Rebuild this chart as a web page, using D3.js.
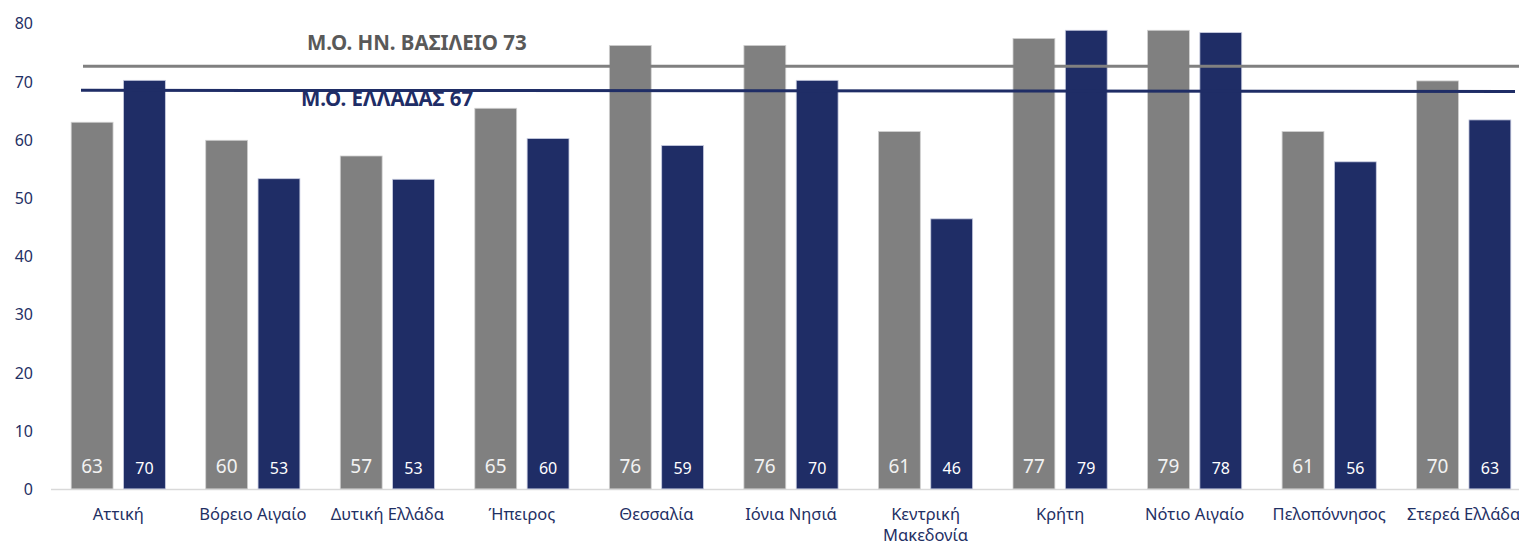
<!DOCTYPE html>
<html><head><meta charset="utf-8">
<script src="https://cdn.jsdelivr.net/npm/d3@7"></script>
<style>
html,body{margin:0;padding:0;background:#fff;overflow:hidden}
svg{display:block}
text{font-family:"Noto Sans","Open Sans",sans-serif}
</style></head>
<body>
<svg id="chart" width="1519" height="545"></svg>
<script>
const categories = ["Αττική","Βόρειο Αιγαίο","Δυτική Ελλάδα","Ήπειρος","Θεσσαλία","Ιόνια Νησιά","Κεντρική Μακεδονία","Κρήτη","Νότιο Αιγαίο","Πελοπόννησος","Στερεά Ελλάδα"];
const ukValues = [63.0, 59.9, 57.2, 65.4, 76.2, 76.2, 61.4, 77.4, 78.8, 61.4, 70.1];
const grValues = [70.2, 53.3, 53.2, 60.2, 59.0, 70.2, 46.4, 78.8, 78.4, 56.2, 63.4];
const ukLabels = ["63","60","57","65","76","76","61","77","79","61","70"];
const grLabels = ["70","53","53","60","59","70","46","79","78","56","63"];
const ukAvg = 72.6, grAvg = 68.5;
const ukAvgText = "Μ.Ο. ΗΝ. ΒΑΣΙΛΕΙΟ 73";
const grAvgText = "Μ.Ο. ΕΛΛΑΔΑΣ 67";
const yTicks = [0,10,20,30,40,50,60,70,80];

const GRAY = "#808080", NAVY = "#1F2D66", TEXT = "#1F3064";
const svg = d3.select("#chart");
const x0 = 51, x1 = 1531, yBottom = 488.9, yTop = 23.3;
const x = d3.scaleBand().domain(categories).range([x0, x1]).paddingInner(0.30).paddingOuter(0.15);
const sub = d3.scaleBand().domain(["uk","gr"]).range([0, x.bandwidth()]).paddingInner(0.2);
const y = d3.scaleLinear().domain([0,80]).range([yBottom, yTop]);

// y axis labels
const yAxis = d3.axisLeft(y).tickValues(yTicks).tickSize(0).tickPadding(0);
const gy = svg.append("g").attr("transform","translate(33,0)").call(yAxis);
gy.select(".domain").remove();
gy.selectAll("text").attr("fill",TEXT).style("font-size","16px").attr("dy","0.35em");

// baseline
svg.append("line").attr("x1",x0).attr("x2",1519).attr("y1",y(0)+0.5).attr("y2",y(0)+0.5)
  .attr("stroke","#d9d9d9").attr("stroke-width",1.5);

const rows = categories.map((c,i)=>({c, uk:ukValues[i], gr:grValues[i], ukL:ukLabels[i], grL:grLabels[i]}));
const g = svg.append("g");
const grp = g.selectAll("g.cat").data(rows).join("g").attr("transform",d=>`translate(${x(d.c)},0)`);
grp.append("rect").attr("x",sub("uk")).attr("width",sub.bandwidth()).attr("y",d=>y(d.uk)).attr("height",d=>y(0)-y(d.uk))
  .attr("fill",GRAY).attr("stroke","#d0d0d0").attr("stroke-width",0.8);
grp.append("rect").attr("x",sub("gr")).attr("width",sub.bandwidth()).attr("y",d=>y(d.gr)).attr("height",d=>y(0)-y(d.gr))
  .attr("fill",NAVY).attr("stroke","#c8cce0").attr("stroke-width",0.8);
grp.append("text").attr("x",sub("uk")+sub.bandwidth()/2).attr("y",472.5).attr("text-anchor","middle")
  .attr("fill","#f2f2f2").style("font-size","19px").text(d=>d.ukL);
grp.append("text").attr("x",sub("gr")+sub.bandwidth()/2).attr("y",473.5).attr("text-anchor","middle")
  .attr("fill","#ffffff").style("font-size","16px").text(d=>d.grL);

// category labels
const xAxis = d3.axisBottom(x).tickSize(0).tickPadding(0);
const gx = svg.append("g").attr("transform",`translate(0,${yBottom})`).call(xAxis);
gx.select(".domain").remove();
gx.selectAll("text").attr("fill",TEXT).style("font-size","16.5px").attr("dy",null).attr("y",0)
  .each(function(d){
    const t = d3.select(this); t.text(null);
    const parts = d==="Κεντρική Μακεδονία" ? ["Κεντρική","Μακεδονία"] : [d];
    parts.forEach((p,k)=>t.append("tspan").attr("x",0).attr("y",31+k*21).text(p));
  });

// average lines
svg.append("line").attr("x1",83).attr("x2",1519).attr("y1",y(ukAvg)).attr("y2",y(ukAvg))
  .attr("stroke",GRAY).attr("stroke-width",3);
svg.append("line").attr("x1",81).attr("x2",1515).attr("y1",y(grAvg)).attr("y2",y(grAvg)+1.3)
  .attr("stroke",NAVY).attr("stroke-width",3);
svg.append("text").attr("x",307).attr("y",50).attr("fill","#595959").style("font-size","20.5px").style("font-weight","bold").text(ukAvgText);
svg.append("text").attr("x",301).attr("y",106).attr("fill",NAVY).style("font-size","20.5px").style("font-weight","bold").text(grAvgText);
</script>
</body></html>
